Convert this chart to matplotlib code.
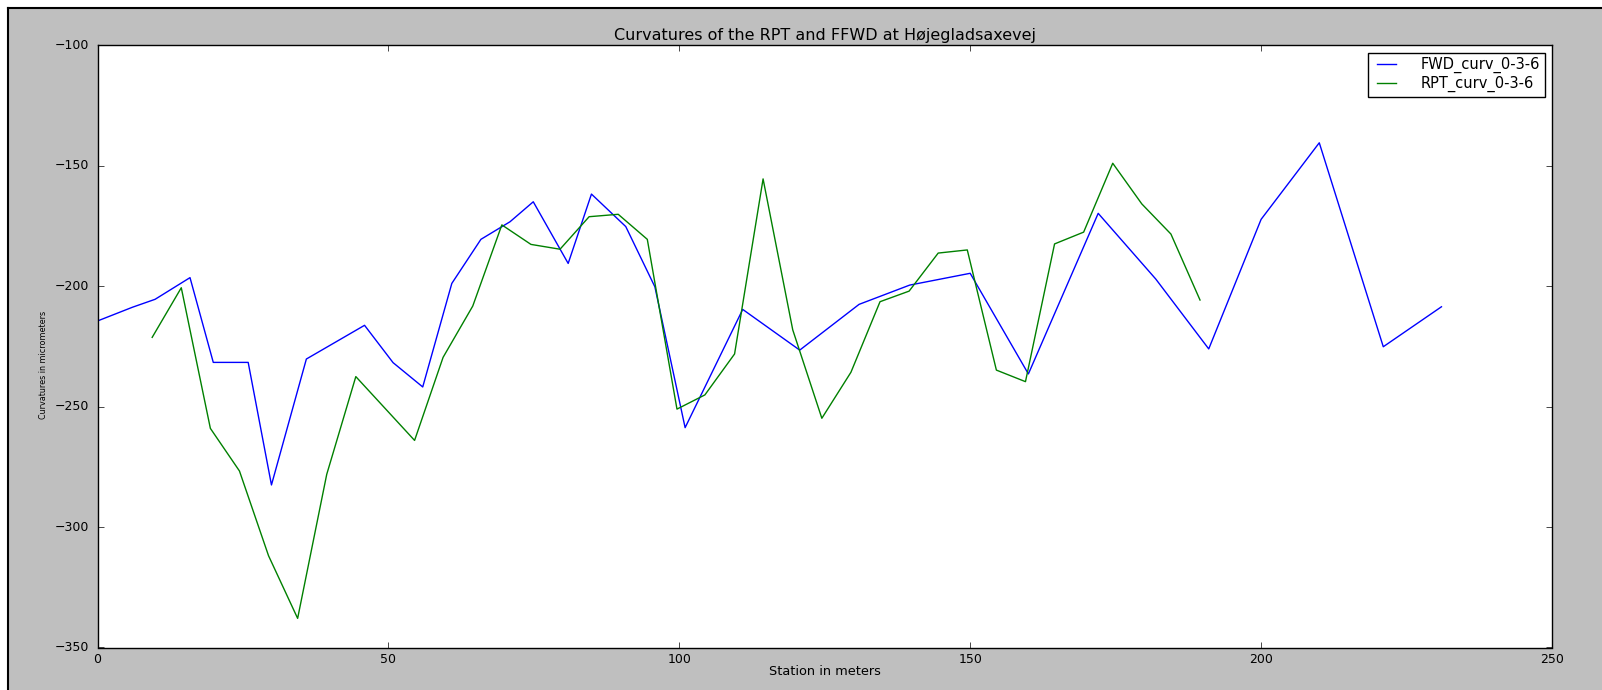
import matplotlib
matplotlib.use("Agg")
import matplotlib.pyplot as plt
from matplotlib.patches import Rectangle
from matplotlib.lines import Line2D
import numpy as np

plt.style.use('classic')

# FWD curvature stations and values
fwd_station = np.array([0, 6, 9.9, 15.9, 19.9, 25.9, 29.9, 35.9, 45.9, 50.8, 55.9, 60.9,
                        65.9, 70.9, 74.9, 80.9, 84.9, 90.8, 95.8, 101, 110.9, 120.7,
                        130.9, 139.6, 150, 160, 172, 181.9, 191, 200, 210, 221, 231])
fwd_curv = np.array([-214.4, -208.7, -205.4, -196.4, -231.6, -231.6, -282.5, -230.2,
                     -216.2, -231.7, -241.8, -198.8, -180.5, -173.2, -164.9, -190.5,
                     -161.7, -175.2, -200.2, -258.7, -209.6, -226.5, -207.5, -199.5,
                     -194.6, -236.4, -169.7, -197.0, -226.0, -172.2, -140.4, -225.1, -208.5])

# RPT curvature stations and values
rpt_station = np.array([9.4, 14.4, 19.4, 24.4, 29.4, 34.4, 39.4, 44.4, 54.5, 59.4, 64.5,
                        69.5, 74.5, 79.5, 84.5, 89.5, 94.5, 99.6, 104.4, 109.5, 114.4,
                        119.5, 124.5, 129.5, 134.5, 139.5, 144.5, 149.5, 154.5, 159.5,
                        164.5, 169.5, 174.5, 179.5, 184.5, 189.5])
rpt_curv = np.array([-221.2, -200.6, -259.0, -276.7, -311.9, -337.9, -278.1, -237.5,
                     -264.0, -229.5, -208.2, -174.5, -182.6, -184.6, -171.1, -170.1,
                     -180.5, -251.0, -245.1, -228.1, -155.4, -218.1, -254.8, -235.7,
                     -206.4, -202.0, -186.2, -184.9, -234.8, -239.6, -182.4, -177.5,
                     -148.9, -165.8, -178.3, -205.7])

fig = plt.figure(figsize=(16.02, 6.9), dpi=100)
fig.patch.set_facecolor('#bfbfbf')

# screenshot edge: white strip and black frame line top/left
fig.add_artist(Rectangle((0, 1 - 7 / 690), 1, 7 / 690, transform=fig.transFigure,
                         facecolor='white', edgecolor='none'))
fig.add_artist(Rectangle((0, 0), 7 / 1602, 1, transform=fig.transFigure,
                         facecolor='white', edgecolor='none'))
fig.add_artist(Line2D([7.5 / 1602, 1], [1 - 7.5 / 690, 1 - 7.5 / 690],
                      transform=fig.transFigure, color='black', lw=1.5))
fig.add_artist(Line2D([7.5 / 1602, 7.5 / 1602], [0, 1 - 7.5 / 690],
                      transform=fig.transFigure, color='black', lw=1.5))

ax = fig.add_axes([97.5 / 1602, 42.5 / 690, (1552 - 97.5) / 1602, (647.5 - 45.5) / 690])

ax.plot(fwd_station, fwd_curv, 'b', lw=1, label='FWD_curv_0-3-6')
ax.plot(rpt_station, rpt_curv, 'g', lw=1, label='RPT_curv_0-3-6')

ax.set_xlim(0, 250)
ax.set_ylim(-350, -100)
ax.set_xticks([0, 50, 100, 150, 200, 250])
ax.set_yticks([-350, -300, -250, -200, -150, -100])
ax.tick_params(labelsize=9, pad=4)
ax.tick_params(axis='y', pad=6)

ax.set_title('Curvatures of the RPT and FFWD at Højegladsaxevej', fontsize=11.5, pad=4)
ax.set_xlabel('Station in meters', fontsize=9.3, labelpad=-1)
ax.set_ylabel('Curvatures in micrometers', fontsize=5.8)
ax.yaxis.set_label_coords(-0.034, 0.47)

ax.legend(loc='upper right', fontsize=10.5, handlelength=1.9, handletextpad=1.4,
          borderpad=0.3, labelspacing=0.2, borderaxespad=0.5)

fig.savefig('out.png', dpi=100, facecolor=fig.get_facecolor())
